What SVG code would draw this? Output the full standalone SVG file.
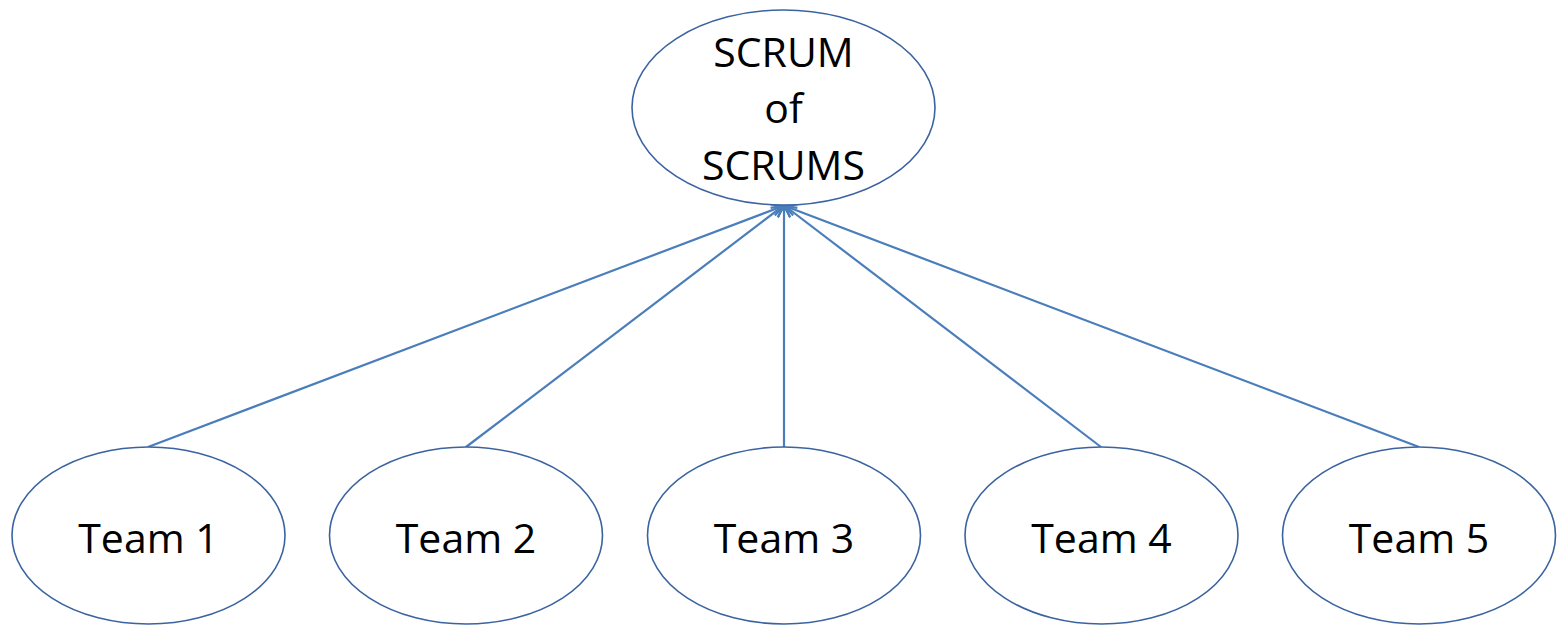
<svg xmlns="http://www.w3.org/2000/svg" width="1561" height="625" viewBox="0 0 1561 625">
<style>
.node{fill:#fff;stroke:#3a63a0;stroke-width:1.6}
.lbl{font-family:"Open Sans","Liberation Sans",sans-serif;font-size:41px;fill:#000;text-anchor:middle}
.conn{stroke:#4a7ebb;stroke-width:2.2;fill:none;marker-end:url(#arr)}
</style>
<defs>
<marker id="arr" markerUnits="userSpaceOnUse" markerWidth="24" markerHeight="24" refX="12" refY="12" orient="auto" viewBox="0 0 24 24">
<polyline points="1,6 12,12 1,18" fill="none" stroke="#4a7ebb" stroke-width="2.2"/>
</marker>
</defs>
<rect width="1561" height="625" fill="#fff"/>
<g id="connectors">
<line class="conn" x1="148" y1="447" x2="783" y2="206"/>
<line class="conn" x1="466" y1="447" x2="783" y2="206"/>
<line class="conn" x1="784" y1="447" x2="784" y2="206"/>
<line class="conn" x1="1101" y1="447" x2="785" y2="206"/>
<line class="conn" x1="1419" y1="447" x2="785" y2="206"/>
</g>
<g id="scrum">
<ellipse class="node" cx="783.5" cy="107.5" rx="151.5" ry="97.5"/>
<text class="lbl" x="783.5" y="67">SCRUM</text>
<text class="lbl" x="783.5" y="123">of</text>
<text class="lbl" x="783.5" y="180">SCRUMS</text>
</g>
<g id="team1">
<ellipse class="node" cx="148.5" cy="535.5" rx="136.5" ry="88.5"/>
<text class="lbl" x="148.5" y="553">Team 1</text>
</g>
<g id="team2">
<ellipse class="node" cx="466" cy="535.5" rx="136.5" ry="88.5"/>
<text class="lbl" x="466" y="553">Team 2</text>
</g>
<g id="team3">
<ellipse class="node" cx="784" cy="535.5" rx="136.5" ry="88.5"/>
<text class="lbl" x="784" y="553">Team 3</text>
</g>
<g id="team4">
<ellipse class="node" cx="1101.5" cy="535.5" rx="136.5" ry="88.5"/>
<text class="lbl" x="1101.5" y="553">Team 4</text>
</g>
<g id="team5">
<ellipse class="node" cx="1419" cy="535.5" rx="136.5" ry="88.5"/>
<text class="lbl" x="1419" y="553">Team 5</text>
</g>
</svg>
